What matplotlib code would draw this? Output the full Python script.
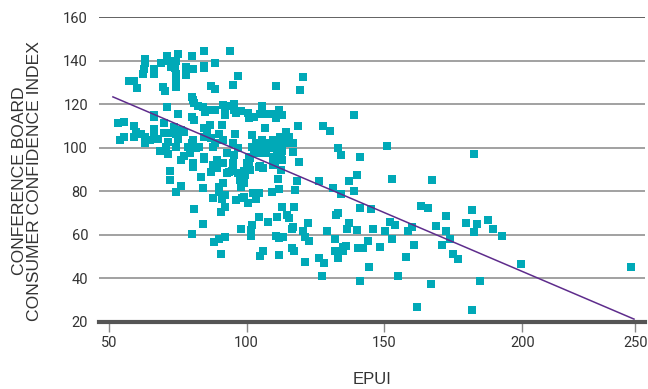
import matplotlib
matplotlib.use("Agg")
import matplotlib.pyplot as plt

# ---------------- data ----------------
epui = [
    # top cluster
    63.3, 63.3, 62.7, 62.4, 66.4, 66.4, 69.0, 71.0, 71.6, 72.4, 75.0, 74.2, 74.0, 74.2,
    78.0, 78.0, 80.0, 80.7, 84.6, 84.6, 84.6, 88.7, 93.9, 96.9, 95.0, 87.0, 88.7, 74.2,
    74.2, 69.5, 70.3, 60.3, 57.2, 59.0, 110.6, 119.4, 120.6, 80.0,
    # ~115-120 band
    71.2, 75.0, 80.6, 81.0, 82.2, 84.2, 85.0, 87.0, 88.7, 91.5, 92.0, 92.0, 93.9, 95.4,
    95.4, 96.0, 98.0, 100.5, 101.0, 102.8, 105.0, 105.7, 106.5, 109.5, 110.6, 111.6, 112.7,
    66.4, 80.3, 81.0, 106.6, 118.5, 86.7, 90.9, 84.5, 127.6, 130.3, 139.0, 53.3, 55.4, 66.4,
    # dense 95-110 band
    54.2, 55.4, 59.0, 59.7, 59.0, 61.6, 63.1, 63.1, 64.9, 66.4, 66.4, 67.9, 68.4, 69.9,
    69.9, 70.6, 71.3, 71.3, 72.4, 73.6, 74.2, 74.2, 75.0, 76.1, 77.3, 77.3, 78.7, 79.4,
    80.0, 80.7, 81.8, 80.7, 80.7, 82.8, 84.5, 85.5, 87.0, 87.8, 84.6, 84.6, 88.5, 90.0,
    91.5, 95.7, 96.8, 95.4, 92.8, 89.1, 87.9, 91.0, 87.0, 89.3, 95.2, 95.2, 93.7, 96.9,
    97.5, 99.0, 98.0, 100.1, 101.0, 101.0, 102.0, 103.4, 102.7, 105.0, 104.2, 105.7, 106.5,
    107.2, 108.0, 108.8, 109.5, 110.0, 110.3, 111.0, 112.2, 112.5, 113.7, 114.3, 115.2,
    115.5, 116.7, 116.7, 112.5, 112.5, 110.3, 112.5, 104.6, 119.1, 133.2, 134.1, 141.2,
    151.0, 182.4, 101.8, 94.9, 76.1,
    # 75-90 band
    72.1, 72.1, 76.1, 74.2, 83.3, 84.0, 87.8, 90.0, 90.1, 91.5, 92.2, 90.9, 96.0, 99.0,
    100.4, 102.2, 103.4, 109.1, 111.2, 111.6, 118.4, 117.5, 126.3, 131.5, 134.1, 137.3,
    139.9, 139.0, 152.7, 167.3,
    # 45-75 band
    92.2, 90.7, 81.0, 112.7, 117.3, 114.6, 115.4, 111.0, 107.7, 104.6, 101.9, 101.6, 101.6,
    97.9, 84.2, 80.1, 92.2, 90.1, 88.2, 90.7, 105.0, 105.9, 111.6, 110.6, 113.1, 111.6,
    116.6, 116.9, 116.3, 117.0, 120.6, 122.2, 121.0, 122.5, 121.3, 126.3, 128.1, 127.5,
    129.3, 131.9, 132.5, 133.3, 132.1, 133.3, 134.8, 136.0, 135.1, 136.3, 137.2, 140.1,
    141.0, 140.4, 142.2, 141.2, 144.2, 144.0, 145.2, 146.0, 148.2, 150.1, 151.9, 152.7,
    153.9, 154.9, 157.9, 158.7, 159.9, 160.7, 161.8, 163.1, 165.7, 166.9, 168.8, 170.9,
    172.4, 172.4, 173.6, 174.8, 176.6, 179.6, 181.7, 182.3, 183.7, 181.9, 184.6, 187.6,
    189.3, 192.5, 199.4, 239.4,
    # extra points in the dense area
    89.2, 91.6, 95.2, 100.1, 101.3, 109.7, 112.8, 88.0, 92.8, 94.6, 97.0, 98.9, 101.3,
    104.9, 109.7, 110.9, 112.8, 99.5, 106.1, 104.3, 98.3,
]
cci = [
    # top cluster
    141.0, 139.0, 136.0, 134.0, 136.0, 134.0, 139.0, 142.0, 140.0, 137.0, 143.0, 140.0, 136.5, 134.0,
    137.0, 133.5, 142.0, 136.0, 144.7, 137.6, 136.5, 139.0, 144.7, 133.0, 129.0, 128.4, 127.0, 130.5,
    128.0, 128.0, 126.3, 127.7, 130.5, 130.5, 128.4, 126.6, 132.7, 123.5,
    # ~115-120 band
    118.6, 115.6, 122.0, 120.5, 119.2, 118.6, 116.6, 117.4, 117.4, 119.7, 116.6, 115.0, 119.0, 120.0,
    117.4, 115.8, 117.0, 115.8, 113.5, 114.3, 115.6, 119.0, 115.6, 115.6, 113.5, 117.4, 115.0,
    114.3, 114.3, 112.8, 109.0, 110.0, 110.5, 110.3, 109.0, 110.0, 107.9, 115.0, 111.6, 112.0, 115.0,
    # dense 95-110 band
    103.6, 105.0, 110.0, 107.4, 105.0, 106.3, 105.0, 102.0, 103.6, 108.5, 105.0, 104.0, 98.5, 111.3,
    106.7, 100.5, 102.8, 97.2, 107.0, 109.7, 106.3, 100.5, 104.0, 108.0, 107.4, 96.0, 100.5, 97.5,
    102.0, 103.6, 99.8, 92.9, 91.3, 100.5, 105.0, 106.7, 104.4, 100.5, 95.6, 94.7, 102.3, 106.3,
    103.6, 106.3, 99.8, 96.7, 97.5, 94.4, 92.1, 92.9, 89.0, 90.6, 92.9, 89.8, 88.7, 88.2,
    85.2, 84.0, 82.0, 89.8, 92.5, 95.9, 100.5, 102.0, 97.5, 99.8, 97.5, 103.6, 100.5,
    97.5, 102.0, 99.8, 103.6, 95.9, 100.5, 103.0, 105.0, 99.8, 103.6, 107.4, 105.0,
    102.0, 102.0, 98.2, 95.9, 94.4, 92.1, 89.8, 91.3, 93.6, 100.0, 96.7, 95.6,
    100.8, 97.1, 105.9, 102.0, 94.4,
    # 75-90 band
    89.5, 85.2, 82.6, 79.8, 86.7, 81.7, 77.0, 79.8, 82.1, 83.7, 78.3, 76.3, 76.0, 77.5,
    74.4, 79.4, 76.4, 79.8, 85.5, 81.0, 84.9, 80.6, 84.7, 81.3, 78.7, 84.7,
    87.5, 80.2, 85.6, 85.2,
    # 45-75 band
    72.9, 70.6, 71.8, 72.9, 72.8, 69.1, 67.5, 68.3, 66.0, 68.0, 64.6, 62.3, 59.5,
    62.8, 65.1, 60.3, 58.8, 57.9, 56.8, 51.1, 50.2, 52.7, 50.7, 59.6, 59.1, 58.6,
    62.6, 63.7, 53.7, 52.5, 61.9, 65.2, 59.1, 57.3, 47.6, 49.4, 46.8, 41.0,
    61.7, 57.9, 69.1, 69.8, 52.7, 49.1, 54.5, 55.0, 52.7, 62.5, 65.2, 62.2,
    72.1, 53.7, 53.7, 38.9, 45.0, 57.3, 71.7, 62.8, 54.5, 61.7, 66.0, 57.9,
    64.5, 41.0, 49.9, 61.7, 63.7, 55.3, 26.9, 73.2, 72.5, 37.3, 64.0, 55.3,
    68.6, 61.7, 57.9, 51.1, 48.8, 65.6, 71.4, 61.4, 64.9, 25.4, 38.9, 66.8,
    62.6, 59.4, 46.5, 45.2,
    # extra points in the dense area
    94.5, 93.0, 93.0, 93.0, 95.3, 94.5, 94.5, 90.7, 88.4, 89.1, 88.4, 89.1, 89.9,
    91.4, 92.2, 96.8, 98.3, 87.6, 90.7, 79.2, 76.9,
]

# fitted trend line (end points)
trend_epui = [51.5, 240.5]
trend_cci = [123.4, 21.2]

y_ticks = [20, 40, 60, 80, 100, 120, 140, 160]
x_tick_labels = ["50", "100", "150", "200", "250"]

# ---------------- figure ----------------
plt.rcParams["font.family"] = ["Roboto", "DejaVu Sans"]

fig = plt.figure(figsize=(6.48, 3.89), dpi=100)
ax = fig.add_axes([0.153, 0.173, 0.842, 0.7825])

for yv in y_ticks[1:]:
    col = "#555555" if yv == 160 else "#9a9a9a"
    ax.axhline(yv, color=col, lw=1.3, zorder=1)

ax.scatter(epui, cci, marker="s", s=32, color="#00A9B7", linewidths=0, zorder=3)
ax.plot(trend_epui, trend_cci, color="#5E2C8C", lw=1.1, zorder=4)

ax.set_xlim(46.5, 244.4)
ax.set_ylim(20, 160)

ax.set_yticks(y_ticks)
ax.set_yticklabels([str(v) for v in y_ticks])
ax.set_xticks([50, 100, 150, 200, 241])
ax.set_xticklabels(x_tick_labels)

for s in ["top", "right", "left"]:
    ax.spines[s].set_visible(False)
ax.spines["bottom"].set_color("#555555")
ax.spines["bottom"].set_linewidth(3)
ax.spines["bottom"].set_zorder(5)

ax.tick_params(axis="y", length=0, pad=8, labelsize=10.5, labelcolor="#333333")
ax.tick_params(axis="x", length=7, width=1, color="#888888", pad=3,
               labelsize=10.5, labelcolor="#333333")

ax.set_xlabel("EPUI", fontsize=12, color="#333333", labelpad=16,
              family=["Liberation Sans", "DejaVu Sans"])
ax.set_ylabel("CONFERENCE BOARD\nCONSUMER CONFIDENCE INDEX", fontsize=12.6,
              color="#333333", linespacing=1.0,
              family=["Liberation Sans", "DejaVu Sans"])
ax.yaxis.set_label_coords(-0.104, 0.462)

fig.savefig("out.png", dpi=100)
